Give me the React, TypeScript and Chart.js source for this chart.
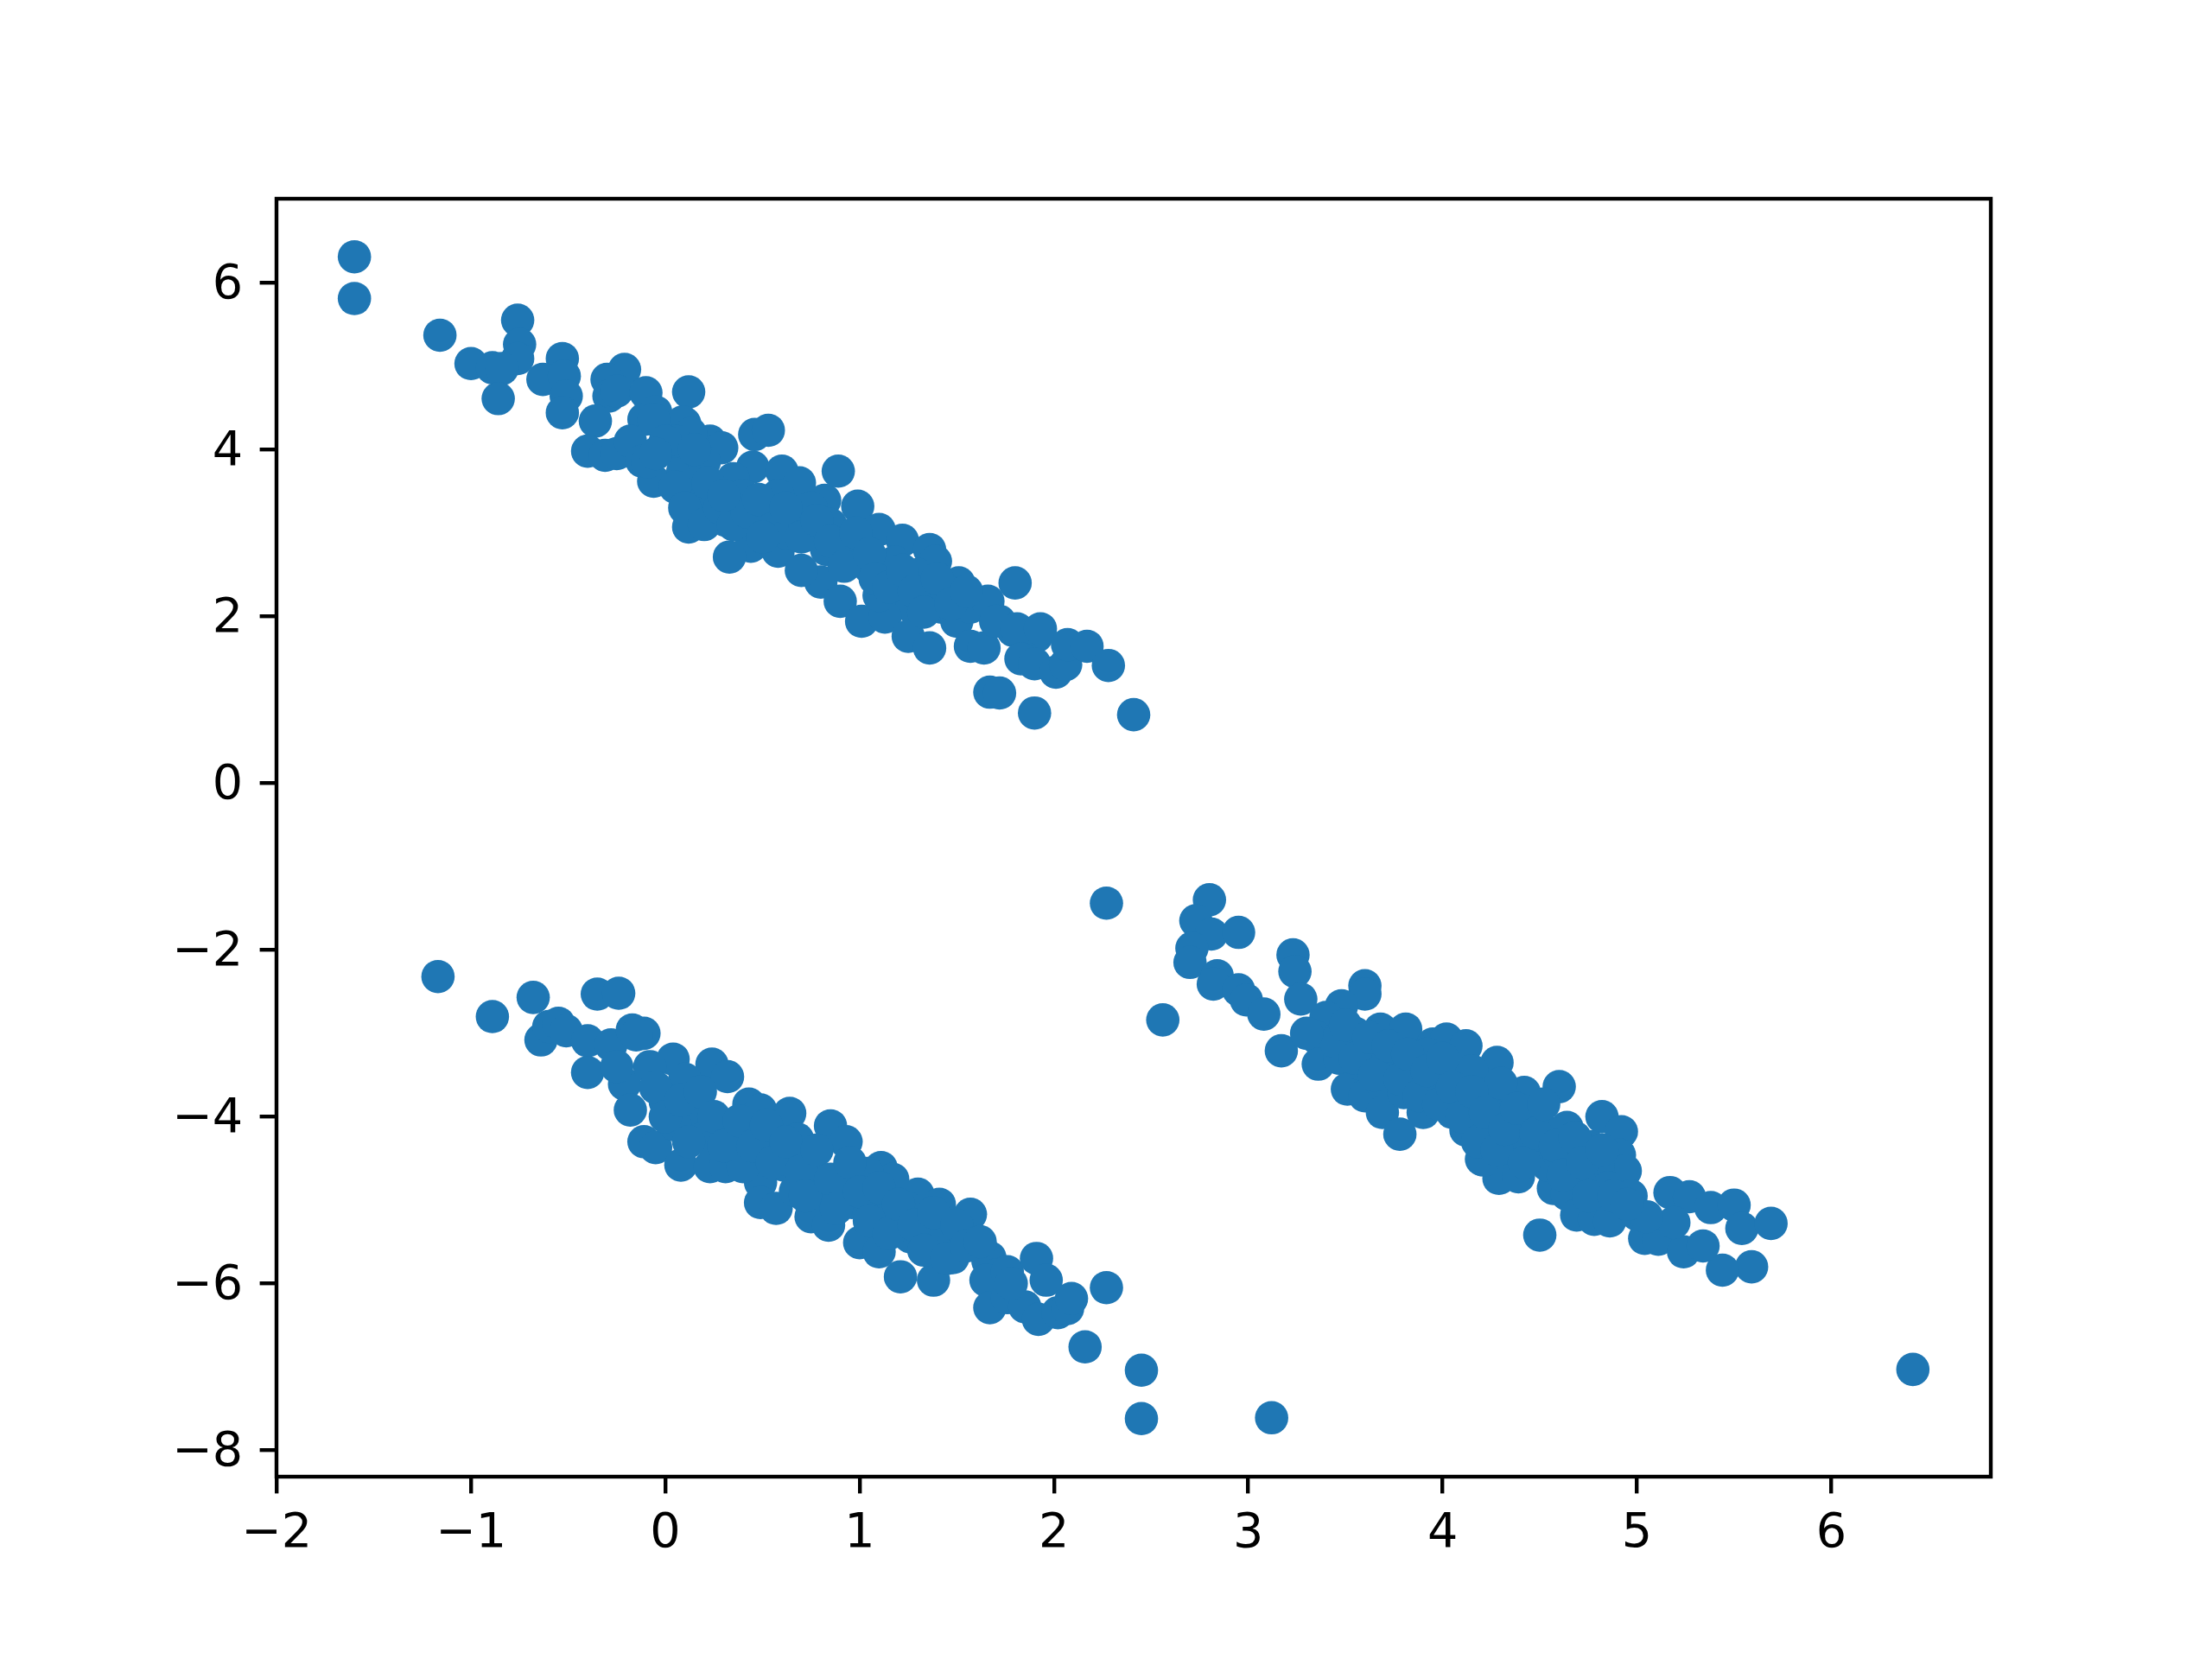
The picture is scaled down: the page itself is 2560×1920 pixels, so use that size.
import React, { useEffect, useRef } from "react";
import { Chart, registerables } from "chart.js";

Chart.register(...registerables);

// Upper-left blob
const clusterA: [number, number][] = [
  [-1.60, 6.31], [-1.60, 5.81], [-1.16, 5.37], [-0.76, 5.55], [-0.75, 5.26], [-0.76, 5.09],
  [-1.00, 5.03], [-0.89, 4.98], [-0.84, 4.97], [-0.86, 4.61], [-0.53, 5.09], [-0.63, 4.84],
  [-0.52, 4.88], [-0.51, 4.64], [-0.53, 4.44], [-0.21, 4.96], [-0.30, 4.84], [-0.29, 4.64],
  [-0.25, 4.70], [-0.36, 4.34], [-0.10, 4.68], [0.12, 4.69], [-0.11, 4.36], [-0.05, 4.45],
  [0.10, 4.31], [-0.40, 3.98], [-0.31, 3.93], [-0.25, 3.95], [-0.18, 4.10], [-0.12, 3.86],
  [-0.06, 3.62], [0.23, 4.10], [0.29, 4.02], [0.12, 3.07], [0.15, 3.43], [0.46, 4.18],
  [0.53, 4.23], [0.45, 3.79], [0.44, 2.84], [0.33, 2.71], [0.09, 4.33], [0.13, 4.19],
  [0.01, 4.01], [-0.09, 3.85], [-0.06, 4.36], [0.09, 3.74], [0.16, 3.39], [0.31, 3.15],
  [0.38, 3.32], [0.46, 3.08], [0.53, 3.22], [0.68, 3.15], [0.75, 2.98], [0.83, 2.80],
  [0.90, 2.98], [0.98, 2.73], [1.05, 2.59], [1.13, 2.46], [1.20, 2.28], [1.27, 2.11],
  [1.35, 2.32], [1.42, 2.11], [1.50, 1.94], [1.57, 2.11], [1.72, 1.94], [1.79, 1.83],
  [1.91, 1.76], [0.60, 3.74], [0.69, 3.60], [0.82, 3.39], [0.89, 3.74], [0.99, 3.32],
  [1.10, 3.04], [1.22, 2.91], [1.36, 2.80], [1.39, 2.66], [0.58, 2.78], [0.80, 2.41],
  [0.90, 2.18], [1.01, 1.94], [1.13, 1.99], [1.25, 1.76], [1.36, 1.62], [1.51, 2.40],
  [1.57, 1.64], [1.64, 1.62], [1.66, 2.18], [1.70, 1.94], [1.67, 1.09], [1.72, 1.08],
  [1.80, 2.40], [1.81, 1.85], [1.83, 1.49], [1.90, 1.43], [1.93, 1.85], [2.01, 1.33],
  [2.06, 1.42], [2.07, 1.66], [2.17, 1.64], [2.28, 1.41], [1.90, 0.84], [2.41, 0.82],
  [0.25, 3.55], [0.35, 3.65], [0.40, 3.45], [0.58, 3.45], [0.75, 3.30], [0.85, 3.10],
  [0.62, 3.00], [1.00, 2.85], [1.18, 2.65], [1.30, 2.50], [1.45, 2.30], [1.10, 2.25],
  [0.20, 3.85], [0.05, 4.10], [0.05, 3.55], [0.10, 3.30], [0.20, 3.10], [0.22, 3.60],
  [0.28, 3.30], [0.35, 3.10], [0.42, 3.25], [0.48, 3.40], [0.55, 3.05], [0.62, 3.30],
  [0.70, 2.95], [0.78, 3.15], [0.85, 2.90], [0.92, 2.60], [0.98, 3.00], [1.05, 2.75],
  [1.08, 2.45], [1.15, 2.35], [1.22, 2.55], [1.28, 2.30], [1.33, 2.05], [1.40, 2.45],
  [1.47, 2.15], [1.55, 2.30], [0.70, 2.55], [0.50, 2.95], [0.30, 3.45], [0.00, 4.10],
  [-0.05, 3.95], [0.15, 4.00],
];

// Lower-left blob
const clusterB: [number, number][] = [
  [-1.17, -2.32], [-0.89, -2.80], [-0.68, -2.57], [-0.35, -2.53], [-0.24, -2.52], [-0.64, -3.08],
  [-0.60, -2.92], [-0.55, -2.88], [-0.51, -2.97], [-0.40, -3.09], [-0.40, -3.47], [-0.28, -3.14],
  [-0.17, -2.96], [-0.11, -3.00], [-0.21, -3.61], [0.04, -3.31], [-0.08, -3.40], [-0.18, -3.92],
  [-0.11, -4.30], [-0.05, -4.37], [0.08, -4.58], [0.24, -3.37], [0.32, -3.52], [0.23, -4.60],
  [0.31, -4.60], [0.43, -3.85], [0.49, -3.92], [0.64, -3.96], [0.68, -4.27], [0.85, -4.11],
  [0.93, -4.30], [0.49, -4.79], [0.49, -5.03], [0.57, -5.10], [0.75, -5.20], [0.84, -5.30],
  [1.00, -5.51], [1.10, -5.62], [1.11, -4.61], [1.17, -4.75], [1.30, -4.93], [1.41, -5.05],
  [1.57, -5.17], [1.54, -5.41], [1.48, -5.69], [1.38, -5.96], [1.21, -5.92], [1.67, -5.69],
  [1.66, -5.73], [1.70, -5.90], [1.65, -5.96], [1.67, -6.29], [1.76, -5.86], [1.76, -6.17],
  [1.85, -6.28], [1.92, -6.43], [1.91, -5.70], [1.96, -5.96], [2.02, -6.35], [2.07, -6.30],
  [2.09, -6.18], [2.27, -6.05], [2.16, -6.76], [2.45, -7.04], [2.45, -7.62], [-0.15, -3.02],
  [0.00, -3.82], [0.15, -3.99], [0.29, -4.09], [0.37, -4.41], [0.61, -4.58], [0.74, -4.51],
  [0.81, -4.85], [0.96, -5.03], [1.04, -4.68], [1.18, -5.20], [1.26, -5.44], [1.41, -5.37],
  [1.48, -5.55], [1.11, -5.03], [0.67, -4.89], [0.10, -3.55], [-0.25, -3.40], [0.20, -4.25],
  [0.55, -4.30], [0.90, -4.75], [1.25, -5.10], [0.40, -4.60], [0.05, -4.10], [-0.05, -3.65],
  [0.00, -4.00], [0.08, -3.80], [0.12, -4.30], [0.18, -3.70], [0.25, -4.00], [0.30, -4.35],
  [0.38, -4.05], [0.45, -4.35], [0.52, -4.10], [0.55, -4.55], [0.62, -4.30], [0.70, -4.65],
  [0.72, -4.95], [0.78, -4.40], [0.85, -4.75], [0.88, -5.10], [0.95, -4.55], [1.00, -4.90],
  [1.05, -5.25], [1.10, -4.85], [1.15, -5.40], [1.20, -5.05], [1.28, -5.30], [1.33, -5.60],
  [1.38, -5.15], [1.45, -5.70], [1.50, -5.30], [1.55, -5.55], [1.62, -5.50], [1.78, -6.00],
];

// Right blob
const clusterC: [number, number][] = [
  [2.27, -1.44], [2.56, -2.84], [2.80, -1.40], [2.73, -1.65], [2.81, -1.81], [2.95, -1.79],
  [2.71, -1.98], [2.70, -2.15], [2.84, -2.31], [2.82, -2.41], [2.95, -2.48], [2.99, -2.60],
  [3.08, -2.77], [3.23, -2.06], [3.24, -2.26], [3.27, -2.59], [3.17, -3.21], [3.60, -2.43],
  [3.60, -2.53], [3.48, -2.67], [3.40, -2.81], [3.35, -3.05], [3.36, -3.37], [3.47, -3.30],
  [3.51, -3.67], [3.60, -3.75], [3.69, -3.61], [3.68, -2.95], [3.81, -2.95], [3.95, -3.13],
  [4.02, -3.07], [4.12, -3.15], [4.28, -3.35], [3.67, -3.18], [3.69, -3.95], [3.78, -4.21],
  [3.90, -3.95], [4.12, -4.16], [4.20, -4.51], [4.29, -4.74], [4.42, -3.71], [4.60, -3.64],
  [4.64, -4.13], [4.82, -4.00], [4.92, -4.18], [4.91, -4.46], [4.94, -4.65], [4.97, -4.95],
  [4.76, -4.36], [4.57, -4.86], [4.64, -4.93], [4.50, -5.42], [4.69, -5.18], [4.78, -5.23],
  [4.86, -5.25], [4.30, -4.72], [4.39, -4.72], [4.21, -4.52], [5.04, -5.46], [5.11, -5.47],
  [5.17, -4.91], [5.27, -4.96], [5.38, -5.09], [5.50, -5.06], [5.54, -5.34], [5.69, -5.28],
  [5.59, -5.80], [5.44, -5.84], [5.24, -5.62], [5.34, -5.55], [5.19, -5.27], [5.00, -5.17],
  [6.42, -7.03], [3.12, -7.61], [3.87, -3.47], [4.02, -3.47], [4.09, -3.71], [4.24, -3.78],
  [4.32, -3.99], [4.39, -4.23], [4.46, -4.40], [4.54, -4.58], [4.24, -4.24], [4.46, -3.99],
  [3.80, -3.71], [3.58, -3.37], [4.76, -4.75], [4.69, -4.47], [4.80, -4.60], [4.85, -4.85],
  [3.55, -3.00], [3.75, -3.30], [3.92, -3.25], [4.15, -3.45], [4.05, -3.95], [4.30, -3.60],
  [4.55, -4.20], [3.45, -3.10], [3.30, -3.00], [3.95, -3.60], [4.60, -4.45], [5.05, -5.20],
  [3.50, -2.90], [3.55, -3.30], [3.62, -3.05], [3.65, -3.50], [3.72, -3.15], [3.78, -3.55],
  [3.82, -3.25], [3.88, -3.75], [3.92, -3.45], [3.98, -3.85], [4.00, -3.30], [4.05, -3.65],
  [4.10, -4.00], [4.15, -3.70], [4.18, -4.30], [4.22, -3.95], [4.28, -4.40], [4.32, -4.15],
  [4.38, -3.90], [4.42, -4.55], [4.48, -4.20], [4.52, -3.85], [4.58, -4.35], [4.62, -4.70],
  [4.68, -4.25], [4.72, -4.55], [4.75, -4.95], [4.82, -4.40], [4.88, -4.95], [4.95, -5.05],
];

const xTickValues = [-2, -1, 0, 1, 2, 3, 4, 5, 6];
const yTickValues = [-8, -6, -4, -2, 0, 2, 4, 6];

const fmt = (v: number) => (v < 0 ? "\u2212" + Math.abs(v) : String(v));

export default function App() {
  const ref = useRef<HTMLCanvasElement | null>(null);

  useEffect(() => {
    if (!ref.current) return;
    const all = [...clusterA, ...clusterB, ...clusterC];
    const xs = all.map((p) => p[0]);
    const ys = all.map((p) => p[1]);
    const xMin = Math.min(...xs), xMax = Math.max(...xs);
    const yMin = Math.min(...ys), yMax = Math.max(...ys);
    const xm = (xMax - xMin) * 0.05, ym = (yMax - yMin) * 0.05;

    const frame = {
      id: "frame",
      afterDraw(chart: any) {
        const { ctx, chartArea } = chart;
        ctx.save();
        ctx.strokeStyle = "#000";
        ctx.lineWidth = 4.4;
        ctx.strokeRect(chartArea.left, chartArea.top, chartArea.right - chartArea.left, chartArea.bottom - chartArea.top);
        ctx.restore();
      },
    };

    const font = { family: "'DejaVu Sans', sans-serif", size: 55.6 };

    const chart = new Chart(ref.current, {
      type: "scatter",
      data: {
        datasets: [
          {
            data: all.map(([x, y]) => ({ x, y })),
            backgroundColor: "#1f77b4",
            borderWidth: 0,
            pointRadius: 19.3,
            pointHoverRadius: 19.3,
          },
        ],
      },
      options: {
        animation: false,
        responsive: false,
        devicePixelRatio: 1,
        events: [],
        layout: { padding: { left: 0, top: 230, right: 256, bottom: 0 } },
        plugins: { legend: { display: false }, tooltip: { enabled: false } },
        scales: {
          x: {
            type: "linear",
            min: xMin - xm,
            max: xMax + xm,
            afterBuildTicks: (s: any) => {
              s.ticks = xTickValues.map((v) => ({ value: v }));
            },
            afterFit: (s: any) => {
              s.height = 211;
            },
            border: { display: false },
            grid: { drawOnChartArea: false, drawTicks: true, tickLength: 19.4, color: "#000", lineWidth: 4.4 },
            ticks: { color: "#000", font, padding: 14, maxRotation: 0, autoSkip: false, callback: (v: any) => fmt(Number(v)) },
          },
          y: {
            type: "linear",
            min: yMin - ym,
            max: yMax + ym,
            afterBuildTicks: (s: any) => {
              s.ticks = yTickValues.map((v) => ({ value: v }));
            },
            afterFit: (s: any) => {
              s.width = 320;
            },
            border: { display: false },
            grid: { drawOnChartArea: false, drawTicks: true, tickLength: 19.4, color: "#000", lineWidth: 4.4 },
            ticks: { color: "#000", font, padding: 19.4, labelOffset: 3, autoSkip: false, callback: (v: any) => fmt(Number(v)) },
          },
        },
      },
      plugins: [frame],
    });
    return () => chart.destroy();
  }, []);

  return (
    <div style={{ position: "absolute", left: 0, top: 0, width: 2560, height: 1920, background: "#fff" }}>
      <canvas ref={ref} width={2560} height={1920} style={{ width: 2560, height: 1920, display: "block" }} />
    </div>
  );
}
